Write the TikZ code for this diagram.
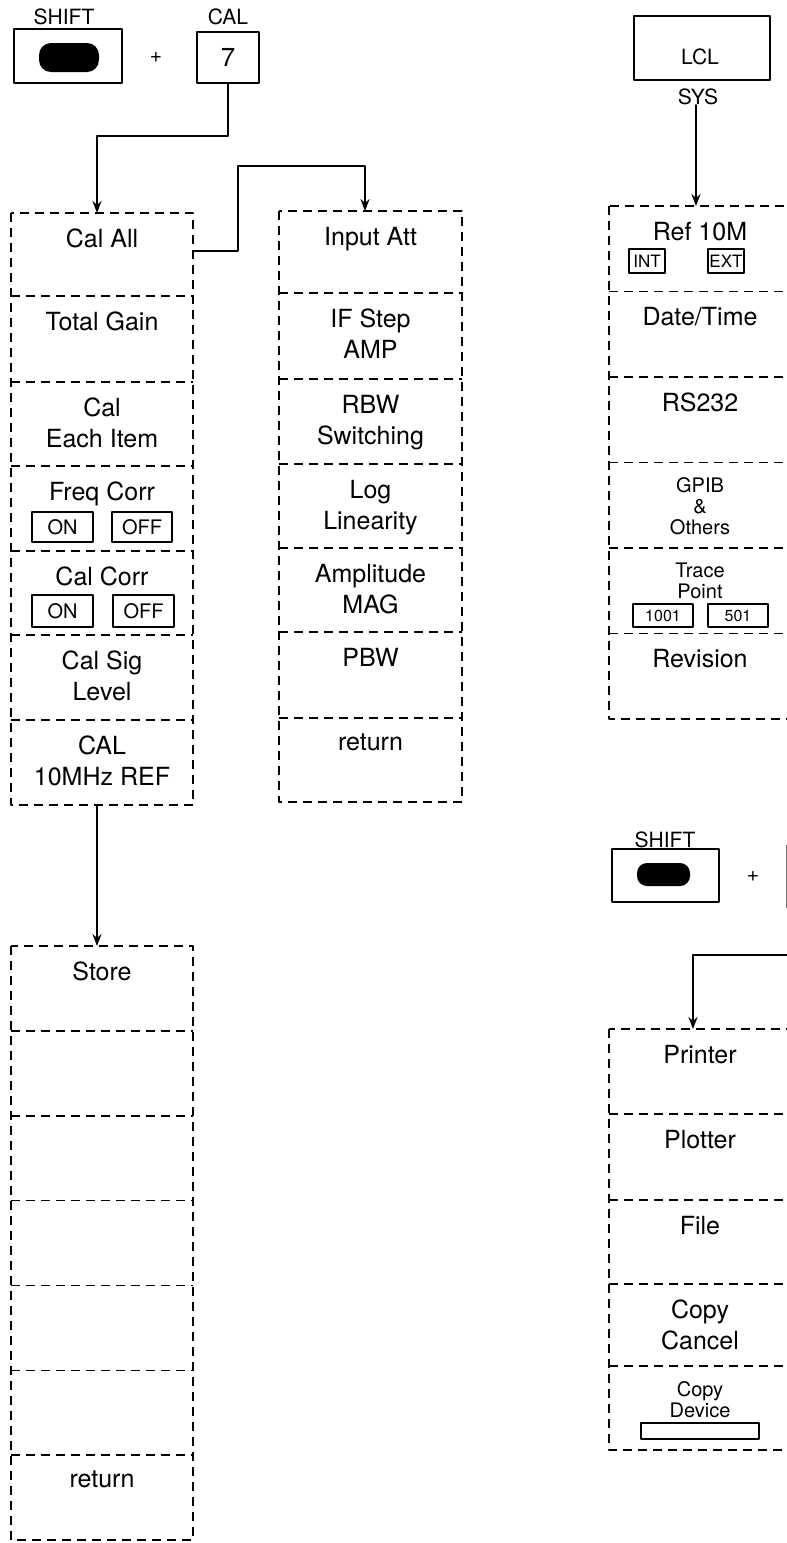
\documentclass[tikz,border=0pt]{standalone}
\usepackage{fontspec}
\setmainfont{TeX Gyre Heros}
\usetikzlibrary{arrows.meta}

\tikzset{
  cell/.style={line width=1.6pt, dash pattern=on 9pt off 6pt, line cap=butt},
  conn/.style={line width=2pt, -{Stealth[length=12pt,width=9pt,inset=4pt]}},
  key/.style={draw, line width=1.8pt, inner sep=0pt},
  keylbl/.style={inner sep=0pt, font=\fontsize{21}{23}\selectfont},
  lbl/.style={anchor=north, inner sep=0pt, align=center, font=\fontsize{25}{31}\selectfont},
  sml/.style={anchor=north, inner sep=0pt, align=center, font=\fontsize{20}{21}\selectfont},
  tog/.style={draw, line width=1.5pt, inner sep=0pt, font=\fontsize{20}{20}\selectfont},
}

\begin{document}
\begin{tikzpicture}[x=1pt, y=-1pt, line cap=round, line join=round]

  % 钉死画布
  \useasboundingbox (0,0) rectangle (787,1543);
  \begin{scope}
  \clip (0,0) rectangle (787,1543);

  %% ════ 按键：SHIFT + CAL 7 ════
  \node[keylbl] (shiftlblA) at (64,17) {SHIFT};
  \node[key, minimum width=108, minimum height=54] (shiftA) at (68,56) {};
  \fill[rounded corners=12pt] (39,43) rectangle (99,72);
  \node[keylbl] (plusA) at (156,58) {+};
  \node[keylbl] (callbl) at (228,17) {CAL};
  \node[key, minimum width=62, minimum height=51, font=\fontsize{26}{26}\selectfont] (cal7) at (228,57.5) {7};

  %% ════ 按键：LCL / SYS ════
  \node[key, minimum width=136, minimum height=64] (lcl) at (702,48) {};
  \node[keylbl] (lcltxt) at (700,57) {LCL};
  \node[keylbl] (sys) at (698,97) {SYS};

  %% ════ 按键：SHIFT +（右侧被裁掉）════
  \node[keylbl] (shiftlblB) at (665,840) {SHIFT};
  \node[key, minimum width=107, minimum height=53] (shiftB) at (665.5,875.5) {};
  \fill[rounded corners=10pt] (637,863) rectangle (690,886);
  \node[keylbl] (plusB) at (753,877) {+};
  \node[draw=black!55, line width=1pt, minimum width=62, minimum height=62, anchor=north west] (keyP) at (786,845) {};

  %% ════ 菜单框（虚线）════
  % 左列：Cal All ...
  \draw[cell] (11,213) rectangle (193,805);
  \draw[cell] (11,296) -- (193,296) (11,382) -- (193,382) (11,466) -- (193,466)
              (11,551) -- (193,551) (11,635) -- (193,635) (11,720) -- (193,720);
  % 中列：Input Att ...
  \draw[cell] (279,211) rectangle (462,802);
  \draw[cell] (279,293) -- (462,293) (279,379) -- (462,379) (279,464) -- (462,464)
              (279,548) -- (462,548) (279,632) -- (462,632) (279,718) -- (462,718);
  % 左下：Store ...
  \draw[cell] (11,946) rectangle (193,1540);
  \draw[cell] (11,1030.9) -- (193,1030.9) (11,1115.7) -- (193,1115.7) (11,1200.6) -- (193,1200.6)
              (11,1285.4) -- (193,1285.4) (11,1370.3) -- (193,1370.3) (11,1455.1) -- (193,1455.1);
  % 右上：Ref 10M ...
  \draw[cell] (609,206) rectangle (791,719);
  \draw[cell] (609,291.5) -- (791,291.5) (609,377) -- (791,377) (609,462.5) -- (791,462.5)
              (609,548) -- (791,548) (609,633.5) -- (791,633.5);
  % 右下：Printer ...
  \draw[cell] (609,1029) rectangle (791,1450);
  \draw[cell] (609,1114) -- (791,1114) (609,1200) -- (791,1200) (609,1284) -- (791,1284)
              (609,1366) -- (791,1366);

  %% ════ 左列文字 ════
  \node[lbl] (calall)   at (102,229) {Cal All};
  \node[lbl] (totgain)  at (102,312) {Total Gain};
  \node[lbl] (caleach)  at (102,398) {Cal\\Each Item};
  \node[lbl] (freqcorr) at (102,482) {Freq Corr};
  \node[tog, minimum width=61, minimum height=30] (fqon)  at (62.5,527) {ON};
  \node[tog, minimum width=60, minimum height=30] (fqoff) at (142,527) {OFF};
  \node[lbl] (calcorr)  at (102,567) {Cal Corr};
  \node[tog, minimum width=61, minimum height=32] (ccon)  at (62.5,611) {ON};
  \node[tog, minimum width=61, minimum height=32] (ccoff) at (143.5,611) {OFF};
  \node[lbl] (calsig)   at (102,651) {Cal Sig\\Level};
  \node[lbl] (calref)   at (102,736) {CAL\\10MHz REF};

  %% ════ 中列文字 ════
  \node[lbl] (inputatt) at (370.5,227) {Input Att};
  \node[lbl] (ifstep)   at (370.5,309) {IF Step\\AMP};
  \node[lbl] (rbwsw)    at (370.5,395) {RBW\\Switching};
  \node[lbl] (loglin)   at (370.5,480) {Log\\Linearity};
  \node[lbl] (ampmag)   at (370.5,564) {Amplitude\\MAG};
  \node[lbl] (pbw)      at (370.5,648) {PBW};
  \node[lbl] (retB)     at (370.5,734) {return};

  %% ════ 左下文字 ════
  \node[lbl] (store)    at (102,962) {Store};
  \node[lbl] (retC)     at (102,1471) {return};

  %% ════ 右上文字 ════
  \node[lbl] (ref10m)   at (700,222) {Ref 10M};
  \node[tog, minimum width=36, minimum height=24, font=\fontsize{17}{17}\selectfont] (intk) at (647,261) {INT};
  \node[tog, minimum width=36, minimum height=24, font=\fontsize{17}{17}\selectfont] (extk) at (726,261) {EXT};
  \node[lbl] (datetime) at (700,307.5) {Date/Time};
  \node[lbl] (rs232)    at (700,393) {RS232};
  \node[sml] (gpib)     at (700,477.5) {GPIB\\\&\\Others};
  \node[sml] (trace)    at (700,563) {Trace\\Point};
  \node[tog, minimum width=60, minimum height=23, font=\fontsize{16}{16}\selectfont] (tp1001) at (663,615.5) {1001};
  \node[tog, minimum width=60, minimum height=23, font=\fontsize{16}{16}\selectfont] (tp501)  at (738,615.5) {501};
  \node[lbl] (revision) at (700,649.5) {Revision};

  %% ════ 右下文字 ════
  \node[lbl] (printer)  at (700,1045) {Printer};
  \node[lbl] (plotter)  at (700,1130) {Plotter};
  \node[lbl] (file)     at (700,1216) {File};
  \node[lbl] (copycan)  at (700,1300) {Copy\\Cancel};
  \node[sml] (copydev)  at (700,1381) {Copy\\Device};
  \node[tog, minimum width=118, minimum height=16] (devbox) at (700,1431) {};

  %% ════ 连线 ════
  \coordinate (inA)  at (97,213);
  \coordinate (outA) at (193,251);
  \coordinate (inB)  at (365,211);
  \coordinate (outS) at (97,805);
  \coordinate (inC)  at (97,946);
  \coordinate (inD)  at (696,206);
  \coordinate (inE)  at (693,1029);
  \draw[conn] (cal7.south) -- ++(0,52) -| (inA);
  \draw[conn] (outA) -- ++(45,0) -- ++(0,-85) -| (inB);
  \draw[conn] (outS) -- (inC);
  \draw[conn] (sys.south -| inD) -- (inD);
  \draw[conn] (keyP.south) -- ++(0,47) -| (inE);
  \end{scope}
\end{tikzpicture}
\end{document}
